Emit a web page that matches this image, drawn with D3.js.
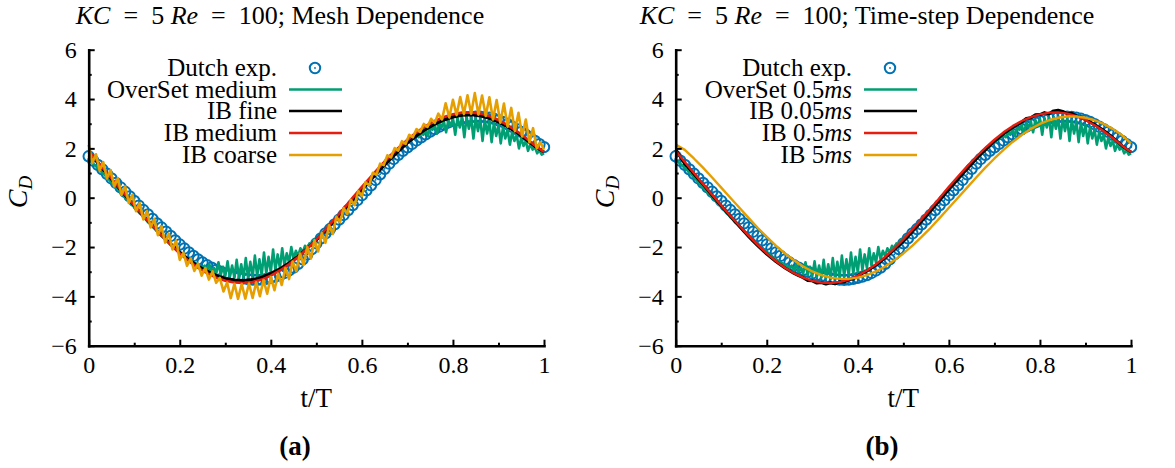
<!DOCTYPE html>
<html>
<head>
<meta charset="utf-8">
<script src="https://cdn.jsdelivr.net/npm/d3@7"></script>
<style>
body { margin: 0; background: #fff; }
text { font-family: "Liberation Serif", "Times New Roman", serif; fill: #000; }
</style>
</head>
<body>
<svg id="chart" width="1175" height="468"></svg>
<script>
// --- data (C_D against t/T) ---
// Dutch exp. : 101 points, t = 0 .. 1 step 0.01
var dutchExp = [1.68,1.50,1.33,1.15,0.97,0.78,0.60,0.42,0.24,0.05,
  -0.13,-0.32,-0.50,-0.68,-0.86,-1.04,-1.21,-1.38,-1.55,-1.73,
  -1.90,-2.06,-2.22,-2.36,-2.50,-2.63,-2.74,-2.84,-2.93,-3.00,
  -3.07,-3.13,-3.18,-3.23,-3.27,-3.30,-3.32,-3.33,-3.32,-3.29,
  -3.25,-3.20,-3.14,-3.05,-2.95,-2.83,-2.68,-2.50,-2.30,-2.08,
  -1.85,-1.65,-1.45,-1.27,-1.08,-0.89,-0.70,-0.50,-0.30,-0.10,
  0.10,0.30,0.50,0.72,0.95,1.17,1.38,1.57,1.74,1.90,
  2.04,2.18,2.32,2.45,2.57,2.68,2.78,2.88,2.97,3.05,
  3.11,3.16,3.21,3.25,3.27,3.28,3.28,3.27,3.24,3.20,
  3.14,3.07,2.98,2.88,2.78,2.67,2.55,2.43,2.30,2.17,2.05];

// OverSet medium / OverSet 0.5ms : 201 points, step 0.005
var overSet = [1.55,1.47,1.37,1.30,1.19,1.12,1.00,0.93,0.81,0.73,
  0.61,0.53,0.41,0.33,0.21,0.13,0.01,-0.07,-0.19,-0.27,
  -0.39,-0.47,-0.59,-0.67,-0.79,-0.87,-0.99,-1.06,-1.18,-1.26,
  -1.37,-1.45,-1.56,-1.63,-1.74,-1.80,-1.91,-1.97,-2.07,-2.13,
  -2.23,-2.28,-2.37,-2.42,-2.51,-2.55,-2.63,-2.67,-2.75,-2.78,
  -2.84,-2.75,-2.94,-2.70,-3.01,-2.85,-3.08,-2.62,-3.13,-2.80,
  -3.18,-2.58,-3.21,-2.75,-3.24,-2.52,-3.25,-2.70,-3.25,-2.45,
  -3.24,-2.60,-3.22,-2.35,-3.18,-2.50,-3.14,-2.22,-3.08,-2.40,
  -3.02,-2.10,-2.94,-2.30,-2.85,-2.05,-2.75,-2.25,-2.63,-2.00,
  -2.50,-2.15,-2.37,-2.05,-2.22,-1.95,-2.06,-1.85,-1.89,-1.70,
  -1.72,-1.55,-1.53,-1.40,-1.34,-1.18,-1.14,-1.00,-0.93,-0.78,
  -0.72,-0.58,-0.50,-0.36,-0.28,-0.14,-0.06,0.08,0.15,0.29,
  0.36,0.50,0.57,0.70,0.78,0.90,0.98,1.10,1.18,1.30,
  1.37,1.49,1.56,1.67,1.74,1.85,1.92,2.02,2.08,2.18,
  2.24,2.33,2.38,2.47,2.52,2.45,2.64,2.55,2.76,2.50,
  2.86,2.75,2.95,2.60,3.03,2.85,3.10,2.65,3.15,2.90,
  3.20,2.55,3.23,2.85,3.25,2.45,3.26,2.80,3.25,2.40,
  3.23,2.70,3.20,2.30,3.15,2.60,3.10,2.25,3.03,2.50,
  2.95,2.20,2.86,2.40,2.76,2.15,2.65,2.30,2.54,2.00,
  2.42,2.10,2.30,1.90,2.18,1.95,2.05,1.80,1.92,1.75,1.80];

// IB fine : 51 points, step 0.02
var ibFine = [1.85,1.40,0.96,0.53,0.10,-0.32,-0.73,-1.13,-1.52,-1.88,
  -2.22,-2.51,-2.77,-2.98,-3.15,-3.27,-3.34,-3.36,-3.32,-3.22,
  -3.07,-2.88,-2.65,-2.37,-2.05,-1.71,-1.33,-0.93,-0.52,-0.10,
  0.32,0.73,1.13,1.52,1.88,2.22,2.51,2.77,2.98,3.15,
  3.27,3.34,3.36,3.32,3.22,3.07,2.88,2.65,2.37,2.08,1.85];

// IB medium / IB 0.5ms : 51 points, step 0.02
var ibMedium = [1.90,1.45,1.00,0.56,0.12,-0.31,-0.73,-1.14,-1.54,-1.91,
  -2.26,-2.57,-2.84,-3.06,-3.24,-3.37,-3.44,-3.46,-3.42,-3.32,
  -3.16,-2.95,-2.70,-2.40,-2.06,-1.69,-1.29,-0.87,-0.44,0.00,
  0.44,0.86,1.27,1.66,2.02,2.35,2.65,2.90,3.11,3.27,
  3.38,3.45,3.46,3.41,3.31,3.15,2.94,2.70,2.42,2.12,1.85];

// IB coarse : 126 points, step 0.008
var ibCoarse = [2.15,1.41,1.76,1.10,1.44,0.78,1.12,0.46,0.79,0.12,
  0.45,-0.21,0.12,-0.55,-0.22,-0.88,-0.54,-1.21,-0.86,-1.52,
  -1.17,-1.82,-1.46,-2.10,-1.74,-2.52,-2.24,-2.76,-2.47,-2.97,
  -2.67,-3.16,-2.85,-3.32,-2.99,-3.45,-3.25,-3.80,-3.44,-4.07,
  -3.49,-4.10,-3.50,-4.09,-3.48,-4.06,-3.43,-3.99,-3.34,-3.89,
  -3.22,-3.75,-3.08,-3.54,-2.85,-3.30,-2.59,-2.98,-2.26,-2.73,
  -2.00,-2.47,-1.73,-2.18,-1.43,-1.83,-1.12,-1.47,-0.77,-0.99,
  -0.42,-0.66,-0.09,-0.30,0.27,0.07,0.63,0.50,1.01,0.93,
  1.38,1.32,1.72,1.63,2.01,1.91,2.29,2.18,2.55,2.45,
  2.78,2.67,2.99,2.87,3.20,3.03,3.41,3.17,3.83,3.25,
  3.97,3.35,4.08,3.39,4.15,3.40,4.24,3.37,4.14,3.31,
  4.07,3.17,3.96,3.04,3.82,2.88,3.64,2.70,3.44,2.48,
  3.17,2.25,2.82,2.00,2.25,1.95];

// IB 0.05ms : 101 points, step 0.01
var ib005 = [1.95,1.66,1.37,1.17,0.96,0.75,0.54,0.32,0.10,-0.12,
  -0.33,-0.54,-0.75,-0.96,-1.16,-1.37,-1.57,-1.76,-1.94,-2.12,
  -2.29,-2.44,-2.59,-2.72,-2.85,-2.96,-3.07,-3.16,-3.24,-3.36,
  -3.37,-3.46,-3.44,-3.50,-3.45,-3.49,-3.41,-3.42,-3.32,-3.30,
  -3.16,-3.07,-2.97,-2.85,-2.73,-2.59,-2.44,-2.28,-2.11,-1.94,
  -1.76,-1.57,-1.37,-1.17,-0.96,-0.75,-0.54,-0.32,-0.10,0.12,
  0.33,0.54,0.75,0.96,1.16,1.37,1.57,1.76,1.94,2.12,
  2.29,2.44,2.59,2.72,2.85,2.96,3.07,3.21,3.24,3.36,
  3.37,3.45,3.40,3.52,3.55,3.50,3.41,3.42,3.32,3.26,
  3.16,3.07,2.97,2.85,2.73,2.59,2.44,2.28,2.11,1.98,1.85];

// IB 5ms : 51 points, step 0.02
var ib5 = [2.15,1.94,1.59,1.22,0.82,0.41,0.00,-0.41,-0.82,-1.22,
  -1.59,-1.94,-2.26,-2.54,-2.79,-2.99,-3.14,-3.24,-3.29,-3.29,
  -3.24,-3.14,-2.99,-2.79,-2.54,-2.26,-1.94,-1.59,-1.22,-0.82,
  -0.41,0.00,0.41,0.82,1.22,1.59,1.94,2.26,2.54,2.79,
  2.99,3.14,3.24,3.29,3.29,3.24,3.14,2.99,2.79,2.54,2.20];

var xTicks = [0, 0.2, 0.4, 0.6, 0.8, 1];
var xMinor = [0.1, 0.3, 0.5, 0.7, 0.9];
var yTicks = [-6, -4, -2, 0, 2, 4, 6];
var yMinor = [-5, -3, -1, 1, 3, 5];

var colors = { exp: "#0072b2", over: "#009e73", fine: "#000000", medium: "#e51e10", coarse: "#e69f00" };

// each label: list of [text, italic]
var eq = "\u2002=\u2002";
var panels = [
  {
    left: 88.7, right: 544, titleX: 280, capX: 295, cap: "(a)",
    title: [["KC", true], [eq + "5 ", false], ["Re", true], [eq + "100; Mesh Dependence", false]],
    legendX: 277,
    series: [
      { label: [["OverSet medium", false]], data: overSet, color: colors.over, width: 2.6 },
      { label: [["IB fine", false]], data: ibFine, color: colors.fine, width: 3 },
      { label: [["IB medium", false]], data: ibMedium, color: colors.medium, width: 2.6 },
      { label: [["IB coarse", false]], data: ibCoarse, color: colors.coarse, width: 2.6 }
    ]
  },
  {
    left: 675.7, right: 1131, titleX: 867, capX: 882, cap: "(b)",
    title: [["KC", true], [eq + "5 ", false], ["Re", true], [eq + "100; Time-step Dependence", false]],
    legendX: 852,
    series: [
      { label: [["OverSet 0.5", false], ["ms", true]], data: overSet, color: colors.over, width: 2.6 },
      { label: [["IB 0.05", false], ["ms", true]], data: ib005, color: colors.fine, width: 3 },
      { label: [["IB 0.5", false], ["ms", true]], data: ibMedium, color: colors.medium, width: 2.4 },
      { label: [["IB 5", false], ["ms", true]], data: ib5, color: colors.coarse, width: 2.4 }
    ]
  }
];

var svg = d3.select("#chart");
var y = d3.scaleLinear().domain([-6, 6]).range([345.7, 49.7]);

function addRich(sel, parts) {
  parts.forEach(function (p) {
    sel.append("tspan").text(p[0]).style("font-style", p[1] ? "italic" : "normal");
  });
}

function toPoints(arr) {
  var n = arr.length - 1;
  return arr.map(function (v, i) { return [i / n, v]; });
}

panels.forEach(function (p) {
  var x = d3.scaleLinear().domain([0, 1]).range([p.left, p.right]);
  var g = svg.append("g");
  var line = d3.line()
    .x(function (d) { return x(d[0]); })
    .y(function (d) { return y(d[1]); });

  // title
  var title = g.append("text")
    .attr("x", p.titleX).attr("y", 24)
    .attr("text-anchor", "middle")
    .style("font-size", "26px");
  addRich(title, p.title);

  // experimental points
  var pts = toPoints(dutchExp);
  g.append("g").selectAll("circle")
    .data(pts).enter().append("circle")
    .attr("cx", function (d) { return x(d[0]); })
    .attr("cy", function (d) { return y(d[1]); })
    .attr("r", 5.2)
    .attr("fill", "none")
    .attr("stroke", colors.exp)
    .attr("stroke-width", 2);
  g.append("g").selectAll("circle")
    .data(pts).enter().append("circle")
    .attr("cx", function (d) { return x(d[0]); })
    .attr("cy", function (d) { return y(d[1]); })
    .attr("r", 0.9)
    .attr("fill", colors.exp);

  // simulation curves
  p.series.forEach(function (s) {
    g.append("path")
      .datum(toPoints(s.data))
      .attr("d", line)
      .attr("fill", "none")
      .attr("stroke", s.color)
      .attr("stroke-width", s.width)
      .attr("stroke-linejoin", "round");
  });

  // axes
  g.append("g").attr("transform", "translate(0," + y(-6) + ")")
    .call(d3.axisBottom(x).tickValues(xTicks).tickSizeInner(-6).tickSizeOuter(0)
      .tickPadding(10).tickFormat(function (d) { return String(d); }));
  g.append("g").attr("transform", "translate(0," + y(-6) + ")")
    .call(d3.axisBottom(x).tickValues(xMinor).tickSize(-3).tickFormat(""))
    .select(".domain").remove();
  g.append("g").attr("transform", "translate(" + p.left + ",0)")
    .call(d3.axisLeft(y).tickValues(yTicks).tickSizeInner(-6).tickSizeOuter(0)
      .tickPadding(12).tickFormat(d3.format("d")));
  g.append("g").attr("transform", "translate(" + p.left + ",0)")
    .call(d3.axisLeft(y).tickValues(yMinor).tickSize(-3).tickFormat(""))
    .select(".domain").remove();

  g.selectAll(".domain").attr("stroke", "#000").attr("stroke-width", 2.6).attr("stroke-linecap", "square");
  g.selectAll(".tick line").attr("stroke", "#000").attr("stroke-width", 2);
  g.selectAll(".tick text")
    .style("font-family", "'Liberation Serif', serif")
    .style("font-size", "24px")
    .attr("fill", "#000");

  // axis labels
  var yl = g.append("text")
    .attr("transform", "translate(" + (p.left - 62) + ",192) rotate(-90)")
    .attr("text-anchor", "middle")
    .style("font-size", "28px");
  yl.append("tspan").text("C").style("font-style", "italic");
  yl.append("tspan").text("D").style("font-style", "italic")
    .style("font-size", "19px").attr("dy", 5);

  g.append("text")
    .attr("x", (p.left + p.right) / 2).attr("y", 407)
    .attr("text-anchor", "middle")
    .style("font-size", "27px")
    .text("t/T");

  g.append("text")
    .attr("x", p.capX).attr("y", 455)
    .attr("text-anchor", "middle")
    .style("font-size", "27px")
    .style("font-weight", "bold")
    .text(p.cap);

  // legend
  var rowY = [68, 89.5, 111, 133, 155];
  var leg = g.append("g");
  var t0 = leg.append("text")
    .attr("x", p.legendX).attr("y", rowY[0] + 8)
    .attr("text-anchor", "end").style("font-size", "25px");
  addRich(t0, [["Dutch exp.", false]]);
  leg.append("circle").attr("cx", p.legendX + 38).attr("cy", rowY[0])
    .attr("r", 5.2).attr("fill", "none").attr("stroke", colors.exp).attr("stroke-width", 2);
  leg.append("circle").attr("cx", p.legendX + 38).attr("cy", rowY[0])
    .attr("r", 0.9).attr("fill", colors.exp);
  p.series.forEach(function (s, i) {
    var ty = rowY[i + 1];
    var tx = leg.append("text")
      .attr("x", p.legendX).attr("y", ty + 8)
      .attr("text-anchor", "end").style("font-size", "25px");
    addRich(tx, s.label);
    leg.append("line")
      .attr("x1", p.legendX + 12).attr("x2", p.legendX + 65)
      .attr("y1", ty).attr("y2", ty)
      .attr("stroke", s.color).attr("stroke-width", 2.6);
  });
});
</script>
</body>
</html>
